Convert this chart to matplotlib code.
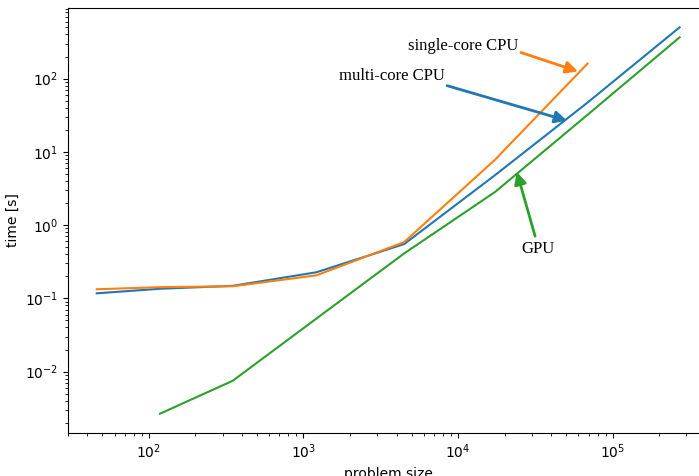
"""."""
import matplotlib
matplotlib.use("Agg")
import matplotlib.pyplot as plt  # type: ignore

# problem sizes
sizes_cpu = [46, 118, 349, 1214, 4480, 17350, 68800, 271000]
sizes_gpu = [118, 349, 1214, 4480, 17350, 68800, 271000]

# timings in seconds
single_core = [0.133, 0.142, 0.146, 0.206, 0.585, 7.8, 160]
multi_core = [0.117, 0.135, 0.148, 0.227, 0.55, 4.8, 47, 500]
gpu = [0.00266, 0.0075, 0.053, 0.41, 2.83, 32, 365]

labels = ["single-core CPU", "multi-core CPU", "GPU"]


def arrow(ax, start, end, color):
    """."""
    ax.annotate("", xy=end, xytext=start,
                arrowprops=dict(arrowstyle="-|>", color=color, lw=2,
                                mutation_scale=18, shrinkA=0, shrinkB=0))


def main():
    """."""
    fig = plt.figure(figsize=(6.99, 4.76), dpi=100)
    ax = fig.add_axes([0.0973, 0.0903, 0.917, 0.893])

    ax.loglog(sizes_cpu[:len(single_core)], single_core, color="tab:orange", zorder=3)
    ax.loglog(sizes_cpu, multi_core, color="tab:blue", zorder=2)
    ax.loglog(sizes_gpu, gpu, color="tab:green", zorder=2)
    ax.set_xlim(30, 4.2e5)
    ax.set_ylim(1.45e-3, 920)
    ax.set_xlabel("problem size")
    ax.set_ylabel("time [s]")

    font = dict(family="Liberation Serif", size=12)
    ax.text(24500, 274, labels[0], ha="right", va="center", **font)
    arrow(ax, (25500, 227), (59700, 125), "tab:orange")
    ax.text(8240, 110, labels[1], ha="right", va="center", **font)
    arrow(ax, (8490, 80), (50700, 26.6), "tab:blue")
    ax.text(32900, 0.469, labels[2], ha="center", va="center", **font)
    arrow(ax, (31500, 0.706), (24000, 5.32), "tab:green")

    fig.savefig("out.png", dpi=100)
    plt.close(fig)


if __name__ == "__main__":
    main()
